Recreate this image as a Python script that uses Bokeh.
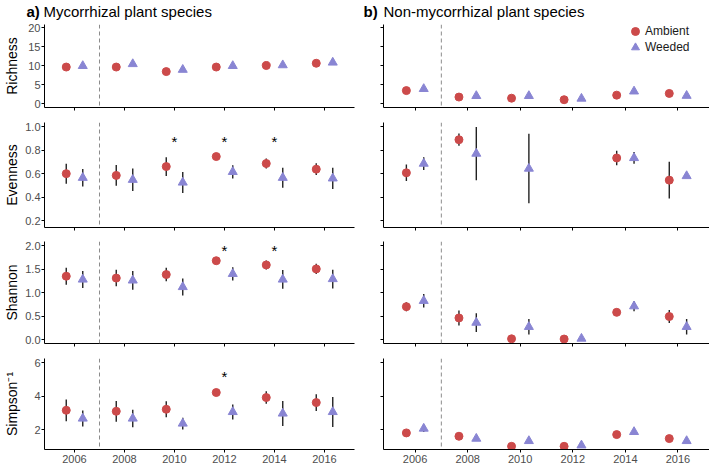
import math
import numpy as np
from bokeh.plotting import figure
from bokeh.models import Range1d, FixedTicker, NumeralTickFormatter, Span, Legend, LegendItem
from bokeh.layouts import column, row
from bokeh.embed import file_html
from bokeh.resources import INLINE
from bokeh.core.properties import value

NaN = float("nan")

# ---------------- data ----------------
years = [2006, 2008, 2010, 2012, 2014, 2016]
treatment_start = 2007

# a) Mycorrhizal plant species
myc_rich_amb = [9.6, 9.6, 8.4, 9.6, 10.0, 10.6]
myc_rich_amb_se = [0.4, 0.4, 0.3, 0.3, 0.3, 0.4]
myc_rich_wee = [9.9, 10.4, 8.9, 9.9, 10.1, 10.8]
myc_rich_wee_se = [0.4, 0.4, 0.3, 0.3, 0.3, 0.4]

myc_even_amb = [0.60, 0.585, 0.66, 0.745, 0.686, 0.638]
myc_even_amb_se = [0.085, 0.088, 0.08, 0.03, 0.042, 0.05]
myc_even_wee = [0.565, 0.548, 0.525, 0.615, 0.565, 0.56]
myc_even_wee_se = [0.075, 0.095, 0.09, 0.057, 0.085, 0.09]

myc_shan_amb = [1.35, 1.31, 1.385, 1.68, 1.59, 1.505]
myc_shan_amb_se = [0.18, 0.175, 0.145, 0.03, 0.095, 0.11]
myc_shan_wee = [1.28, 1.26, 1.12, 1.40, 1.28, 1.29]
myc_shan_wee_se = [0.18, 0.20, 0.18, 0.14, 0.20, 0.20]

myc_simp_amb = [3.15, 3.09, 3.21, 4.21, 3.91, 3.61]
myc_simp_amb_se = [0.65, 0.62, 0.48, 0.20, 0.37, 0.50]
myc_simp_wee = [2.66, 2.66, 2.36, 3.05, 2.96, 3.05]
myc_simp_wee_se = [0.48, 0.52, 0.35, 0.45, 0.75, 0.90]

# b) Non-mycorrhizal plant species
non_rich_amb = [3.4, 1.7, 1.4, 1.0, 2.2, 2.65]
non_rich_amb_se = [0.3, 0.2, 0.2, 0.1, 0.3, 0.3]
non_rich_wee = [3.85, 2.0, 2.0, 1.3, 3.2, 2.05]
non_rich_wee_se = [0.3, 0.2, 0.2, 0.1, 0.3, 0.3]

non_even_amb = [0.607, 0.888, NaN, NaN, 0.733, 0.545]
non_even_amb_se = [0.07, 0.052, NaN, NaN, 0.062, 0.155]
non_even_wee = [0.685, 0.77, 0.643, NaN, 0.733, 0.58]
non_even_wee_se = [0.055, 0.225, 0.295, NaN, 0.05, 0.0]

non_shan_amb = [0.70, 0.46, 0.015, 0.01, 0.58, 0.49]
non_shan_amb_se = [0.095, 0.16, 0.0, 0.0, 0.03, 0.14]
non_shan_wee = [0.825, 0.36, 0.27, 0.02, 0.71, 0.27]
non_shan_wee_se = [0.145, 0.20, 0.165, 0.0, 0.105, 0.165]

non_simp_amb = [1.80, 1.60, 1.0, 1.0, 1.70, 1.46]
non_simp_amb_se = [0.05, 0.05, 0.0, 0.0, 0.05, 0.05]
non_simp_wee = [2.06, 1.46, 1.32, 1.06, 1.86, 1.32]
non_simp_wee_se = [0.20, 0.15, 0.05, 0.0, 0.05, 0.05]

# significance stars (mycorrhizal panels)
even_star_years = [2010, 2012, 2014]
even_star_y = [0.88, 0.88, 0.88]
shan_star_years = [2012, 2014]
shan_star_y = [1.93, 1.93]
simp_star_years = [2012]
simp_star_y = [5.24]

row_labels = ["Richness", "Evenness", "Shannon", "Simpson\u207b\u00b9"]
row_limits = [(-1.05, 20.8), (0.143, 1.034), (-0.085, 2.09), (0.81, 6.24)]
row_ticks = [[0, 5, 10, 15, 20], [0.2, 0.4, 0.6, 0.8, 1.0], [0.0, 0.5, 1.0, 1.5, 2.0], [2, 4, 6]]
row_fmt = ["0", "0.0", "0.0", "0"]
title_letters = ["a)", "b)"]
title_texts = ["Mycorrhizal plant species", "Non-mycorrhizal plant species"]
legend_labels = ["Ambient", "Weeded"]

# ---------------- style / layout ----------------
FONT = "Liberation Sans"
RED = "#CC4A4A"
PURPLE = "#8985D3"
BAR = "#222222"
DODGE = 0.33
XR = (2004.8, 2017.2)

STRIP_W = 22
L_BL, L_FW, L_BR = 20, 310, 19
R_BL, R_FW, R_BR = 10, 326, 0
TOTAL_W = STRIP_W + L_BL + L_FW + L_BR + R_BL + R_FW + R_BR
TITLE_H = 22
frame_h = [83, 105, 102, 91]
b_top = [2, 3, 3, 3]
b_bot = [12, 11, 12, 17]


def make_panel(i, left, amb, amb_se, wee, wee_se, stars_x=None, stars_y=None):
    p = figure(title=None, frame_width=L_FW if left else R_FW, frame_height=frame_h[i],
               x_range=Range1d(*XR), y_range=Range1d(*row_limits[i]),
               min_border_left=L_BL if left else R_BL,
               min_border_right=L_BR if left else R_BR,
               min_border_top=b_top[i], min_border_bottom=b_bot[i],
               output_backend="svg", toolbar_location=None)
    p.outline_line_color = None
    p.grid.visible = False
    p.background_fill_color = "white"
    p.border_fill_color = "white"

    xax = p.xaxis[0]
    yax = p.yaxis[0]
    xax.ticker = FixedTicker(ticks=years)
    yax.ticker = FixedTicker(ticks=row_ticks[i])
    yax.formatter = NumeralTickFormatter(format=row_fmt[i])
    for ax in (xax, yax):
        ax.axis_line_color = "black"
        ax.axis_line_width = 1
        ax.major_tick_line_color = "black"
        ax.major_tick_out = 3
        ax.major_tick_in = 0
        ax.minor_tick_line_color = None
        ax.major_label_text_font = FONT
        ax.major_label_text_font_size = "11px"
        ax.major_label_text_color = "#4D4D4D"
    xax.major_label_standoff = 2
    yax.major_label_standoff = 1
    if i < 3:
        xax.major_label_overrides = {t: "" for t in years}
        xax.major_label_standoff = 0
    if not left:
        yax.major_label_overrides = {t: "" for t in row_ticks[i]}
        yax.major_label_standoff = 0

    p.add_layout(Span(location=treatment_start, dimension="height", line_color="#8C8C8C",
                      line_dash="4 3", line_width=1))

    xs = np.array(years, dtype=float)
    xa = xs - DODGE
    xw = xs + DODGE
    amb = np.array(amb, dtype=float)
    amb_se = np.array(amb_se, dtype=float)
    wee = np.array(wee, dtype=float)
    wee_se = np.array(wee_se, dtype=float)

    p.segment(x0=xa, y0=amb - amb_se, x1=xa, y1=amb + amb_se, line_color=BAR, line_width=1.4)
    p.segment(x0=xw, y0=wee - wee_se, x1=xw, y1=wee + wee_se, line_color=BAR, line_width=1.4)
    ra = p.scatter(x=xa, y=amb, marker="circle", size=8, fill_color=RED, line_color=RED, line_width=1)
    rw = p.scatter(x=xw, y=wee, marker="triangle", size=9, fill_color=PURPLE, line_color=PURPLE, line_width=1)

    if stars_x:
        p.text(x=stars_x, y=stars_y, text=["*"] * len(stars_x), text_font=value(FONT),
               text_font_size="15px", text_align="center", text_baseline="middle",
               text_color="black", y_offset=1)
    return p, ra, rw


panels = [
    (myc_rich_amb, myc_rich_amb_se, myc_rich_wee, myc_rich_wee_se, None, None,
     non_rich_amb, non_rich_amb_se, non_rich_wee, non_rich_wee_se),
    (myc_even_amb, myc_even_amb_se, myc_even_wee, myc_even_wee_se, even_star_years, even_star_y,
     non_even_amb, non_even_amb_se, non_even_wee, non_even_wee_se),
    (myc_shan_amb, myc_shan_amb_se, myc_shan_wee, myc_shan_wee_se, shan_star_years, shan_star_y,
     non_shan_amb, non_shan_amb_se, non_shan_wee, non_shan_wee_se),
    (myc_simp_amb, myc_simp_amb_se, myc_simp_wee, myc_simp_wee_se, simp_star_years, simp_star_y,
     non_simp_amb, non_simp_amb_se, non_simp_wee, non_simp_wee_se),
]

left_figs, right_figs = [], []
first_right = None
for i, d in enumerate(panels):
    lp, _, _ = make_panel(i, True, d[0], d[1], d[2], d[3], d[4], d[5])
    rp, ra, rw = make_panel(i, False, d[6], d[7], d[8], d[9])
    left_figs.append(lp)
    right_figs.append(rp)
    if i == 0:
        first_right = (rp, ra, rw)

# legend (two one-item legends so that the markers keep their size)
rp, ra, rw = first_right
for lab, rend, vy in ((legend_labels[0], ra, frame_h[0] - 18), (legend_labels[1], rw, frame_h[0] - 34)):
    lg = Legend(items=[LegendItem(label=lab, renderers=[rend])], location=(242, vy),
                border_line_color=None, background_fill_alpha=0, padding=0, margin=0,
                glyph_width=20, glyph_height=22, label_height=22, label_standoff=0,
                label_text_font=FONT, label_text_font_size="12px", label_text_color="#1A1A1A")
    rp.add_layout(lg)

# heading strip across the top: bold letter + normal text
tfig = figure(title=None, frame_width=TOTAL_W, frame_height=TITLE_H, x_range=Range1d(0, TOTAL_W),
              y_range=Range1d(TITLE_H, 0), min_border=0, toolbar_location=None,
              output_backend="svg", x_axis_location=None, y_axis_location=None)
tfig.outline_line_color = None
tfig.grid.visible = False
letter_x = [26, 363]
text_x = [43, 383]
title_y = 10.5
tfig.text(x=letter_x, y=[title_y, title_y], text=title_letters, text_font=value(FONT),
          text_font_size="15px", text_font_style="bold", text_color="black",
          text_baseline="middle")
tfig.text(x=text_x, y=[title_y, title_y], text=title_texts, text_font=value(FONT),
          text_font_size="15px", text_color="black", text_baseline="middle")

# y-label strip
strip_h = sum(frame_h) + sum(b_top) + sum(b_bot)
centers = []
acc = 0
for i in range(4):
    centers.append(acc + b_top[i] + frame_h[i] / 2)
    acc += b_top[i] + frame_h[i] + b_bot[i]
sfig = figure(title=None, frame_width=STRIP_W, frame_height=strip_h, x_range=Range1d(0, STRIP_W),
              y_range=Range1d(strip_h, 0), min_border=0, toolbar_location=None,
              output_backend="svg", x_axis_location=None, y_axis_location=None)
sfig.outline_line_color = None
sfig.grid.visible = False
sfig.text(x=[11] * 4, y=centers, text=row_labels, angle=math.pi / 2,
          text_font=value(FONT), text_font_size="14px", text_color="black",
          text_align="center", text_baseline="middle")

layout = column(tfig, row(sfig, column(*left_figs), column(*right_figs)))

open("out.html", "w").write(file_html(layout, INLINE))
